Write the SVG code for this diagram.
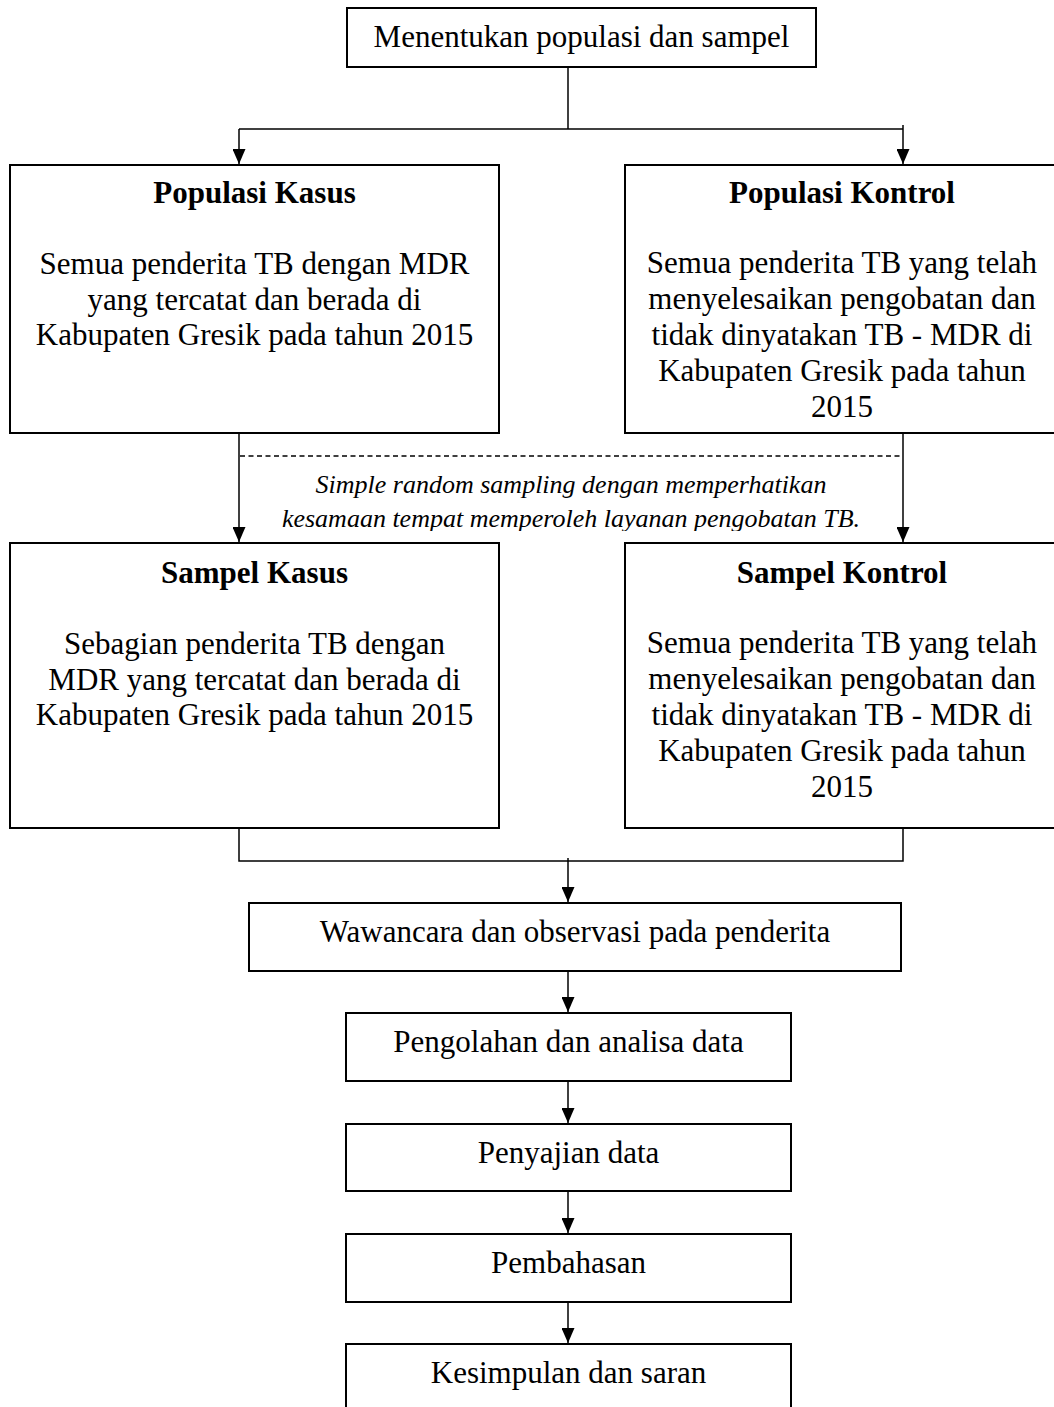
<svg xmlns="http://www.w3.org/2000/svg" width="1054" height="1407" viewBox="0 0 1054 1407">
<style>
  .box { fill: #ffffff; stroke: #000000; stroke-width: 2; }
  .t { font-family: "Liberation Serif", "Times New Roman", serif; font-size: 31px; fill: #000000; text-anchor: middle; }
  .b { font-weight: bold; }
  .it { font-family: "Liberation Serif", "Times New Roman", serif; font-size: 26px; font-style: italic; fill: #000000; text-anchor: middle; }
  .c { fill: none; stroke: #000000; stroke-width: 1.5; }
  .a { fill: none; stroke: #000000; stroke-width: 1.5; marker-end: url(#arr); }
  .d { fill: none; stroke: #000000; stroke-width: 1.5; stroke-dasharray: 5 3.5; }
</style>
<defs>
  <marker id="arr" viewBox="0 0 15 13" refX="15" refY="6.5" markerWidth="15" markerHeight="13" markerUnits="userSpaceOnUse" orient="auto">
    <path d="M0,0 L15,6.5 L0,13 z" fill="#000000"/>
  </marker>
  <clipPath id="lblclip">
    <rect x="200" y="462" width="700" height="69"/>
  </clipPath>
</defs>
<rect width="1054" height="1407" fill="#ffffff"/>

<g id="connectors">
  <path class="c" d="M568,67 V129"/>
  <path class="c" d="M239,129 H903"/>
  <path class="a" d="M239,129 V164"/>
  <path class="a" d="M903,125 V164"/>
  <path class="a" d="M239,433 V542"/>
  <path class="a" d="M903,433 V542"/>
  <path class="d" d="M240,456 H902"/>
  <path class="c" d="M239,828 V861 H903 V828"/>
  <path class="a" d="M568,858 V902"/>
  <path class="a" d="M568,971 V1012"/>
  <path class="a" d="M568,1081 V1123"/>
  <path class="a" d="M568,1191 V1233"/>
  <path class="a" d="M568,1302 V1343"/>
</g>

<g id="label-sampling" clip-path="url(#lblclip)">
  <text class="it" x="571" y="493">Simple random sampling dengan memperhatikan</text>
  <text class="it" x="571" y="527">kesamaan tempat memperoleh layanan pengobatan TB.</text>
</g>

<g id="node-menentukan">
  <rect class="box" x="347" y="8" width="469" height="59"/>
  <text class="t" x="581.5" y="47">Menentukan populasi dan sampel</text>
</g>

<g id="node-populasi-kasus">
  <rect class="box" x="10" y="165" width="489" height="268"/>
  <text class="t b" x="254.5" y="203">Populasi Kasus</text>
  <text class="t" x="254.5" y="274">Semua penderita TB dengan MDR</text>
  <text class="t" x="254.5" y="309.5">yang tercatat dan berada di</text>
  <text class="t" x="254.5" y="345">Kabupaten Gresik pada tahun 2015</text>
</g>

<g id="node-populasi-kontrol">
  <rect class="box" x="625" y="165" width="434" height="268"/>
  <text class="t b" x="842" y="203">Populasi Kontrol</text>
  <text class="t" x="842" y="273">Semua penderita TB yang telah</text>
  <text class="t" x="842" y="309">menyelesaikan pengobatan dan</text>
  <text class="t" x="842" y="345">tidak dinyatakan TB - MDR di</text>
  <text class="t" x="842" y="381">Kabupaten Gresik pada tahun</text>
  <text class="t" x="842" y="417">2015</text>
</g>

<g id="node-sampel-kasus">
  <rect class="box" x="10" y="543" width="489" height="285"/>
  <text class="t b" x="254.5" y="583">Sampel Kasus</text>
  <text class="t" x="254.5" y="654">Sebagian penderita TB dengan</text>
  <text class="t" x="254.5" y="689.5">MDR yang tercatat dan berada di</text>
  <text class="t" x="254.5" y="725">Kabupaten Gresik pada tahun 2015</text>
</g>

<g id="node-sampel-kontrol">
  <rect class="box" x="625" y="543" width="434" height="285"/>
  <text class="t b" x="842" y="583">Sampel Kontrol</text>
  <text class="t" x="842" y="653">Semua penderita TB yang telah</text>
  <text class="t" x="842" y="689">menyelesaikan pengobatan dan</text>
  <text class="t" x="842" y="725">tidak dinyatakan TB - MDR di</text>
  <text class="t" x="842" y="761">Kabupaten Gresik pada tahun</text>
  <text class="t" x="842" y="797">2015</text>
</g>

<g id="node-wawancara">
  <rect class="box" x="249" y="903" width="652" height="68"/>
  <text class="t" x="575" y="942">Wawancara dan observasi pada penderita</text>
</g>

<g id="node-pengolahan">
  <rect class="box" x="346" y="1013" width="445" height="68"/>
  <text class="t" x="568.5" y="1052">Pengolahan dan analisa data</text>
</g>

<g id="node-penyajian">
  <rect class="box" x="346" y="1124" width="445" height="67"/>
  <text class="t" x="568.5" y="1163">Penyajian data</text>
</g>

<g id="node-pembahasan">
  <rect class="box" x="346" y="1234" width="445" height="68"/>
  <text class="t" x="568.5" y="1273">Pembahasan</text>
</g>

<g id="node-kesimpulan">
  <rect class="box" x="346" y="1344" width="445" height="70"/>
  <text class="t" x="568.5" y="1383">Kesimpulan dan saran</text>
</g>
</svg>
